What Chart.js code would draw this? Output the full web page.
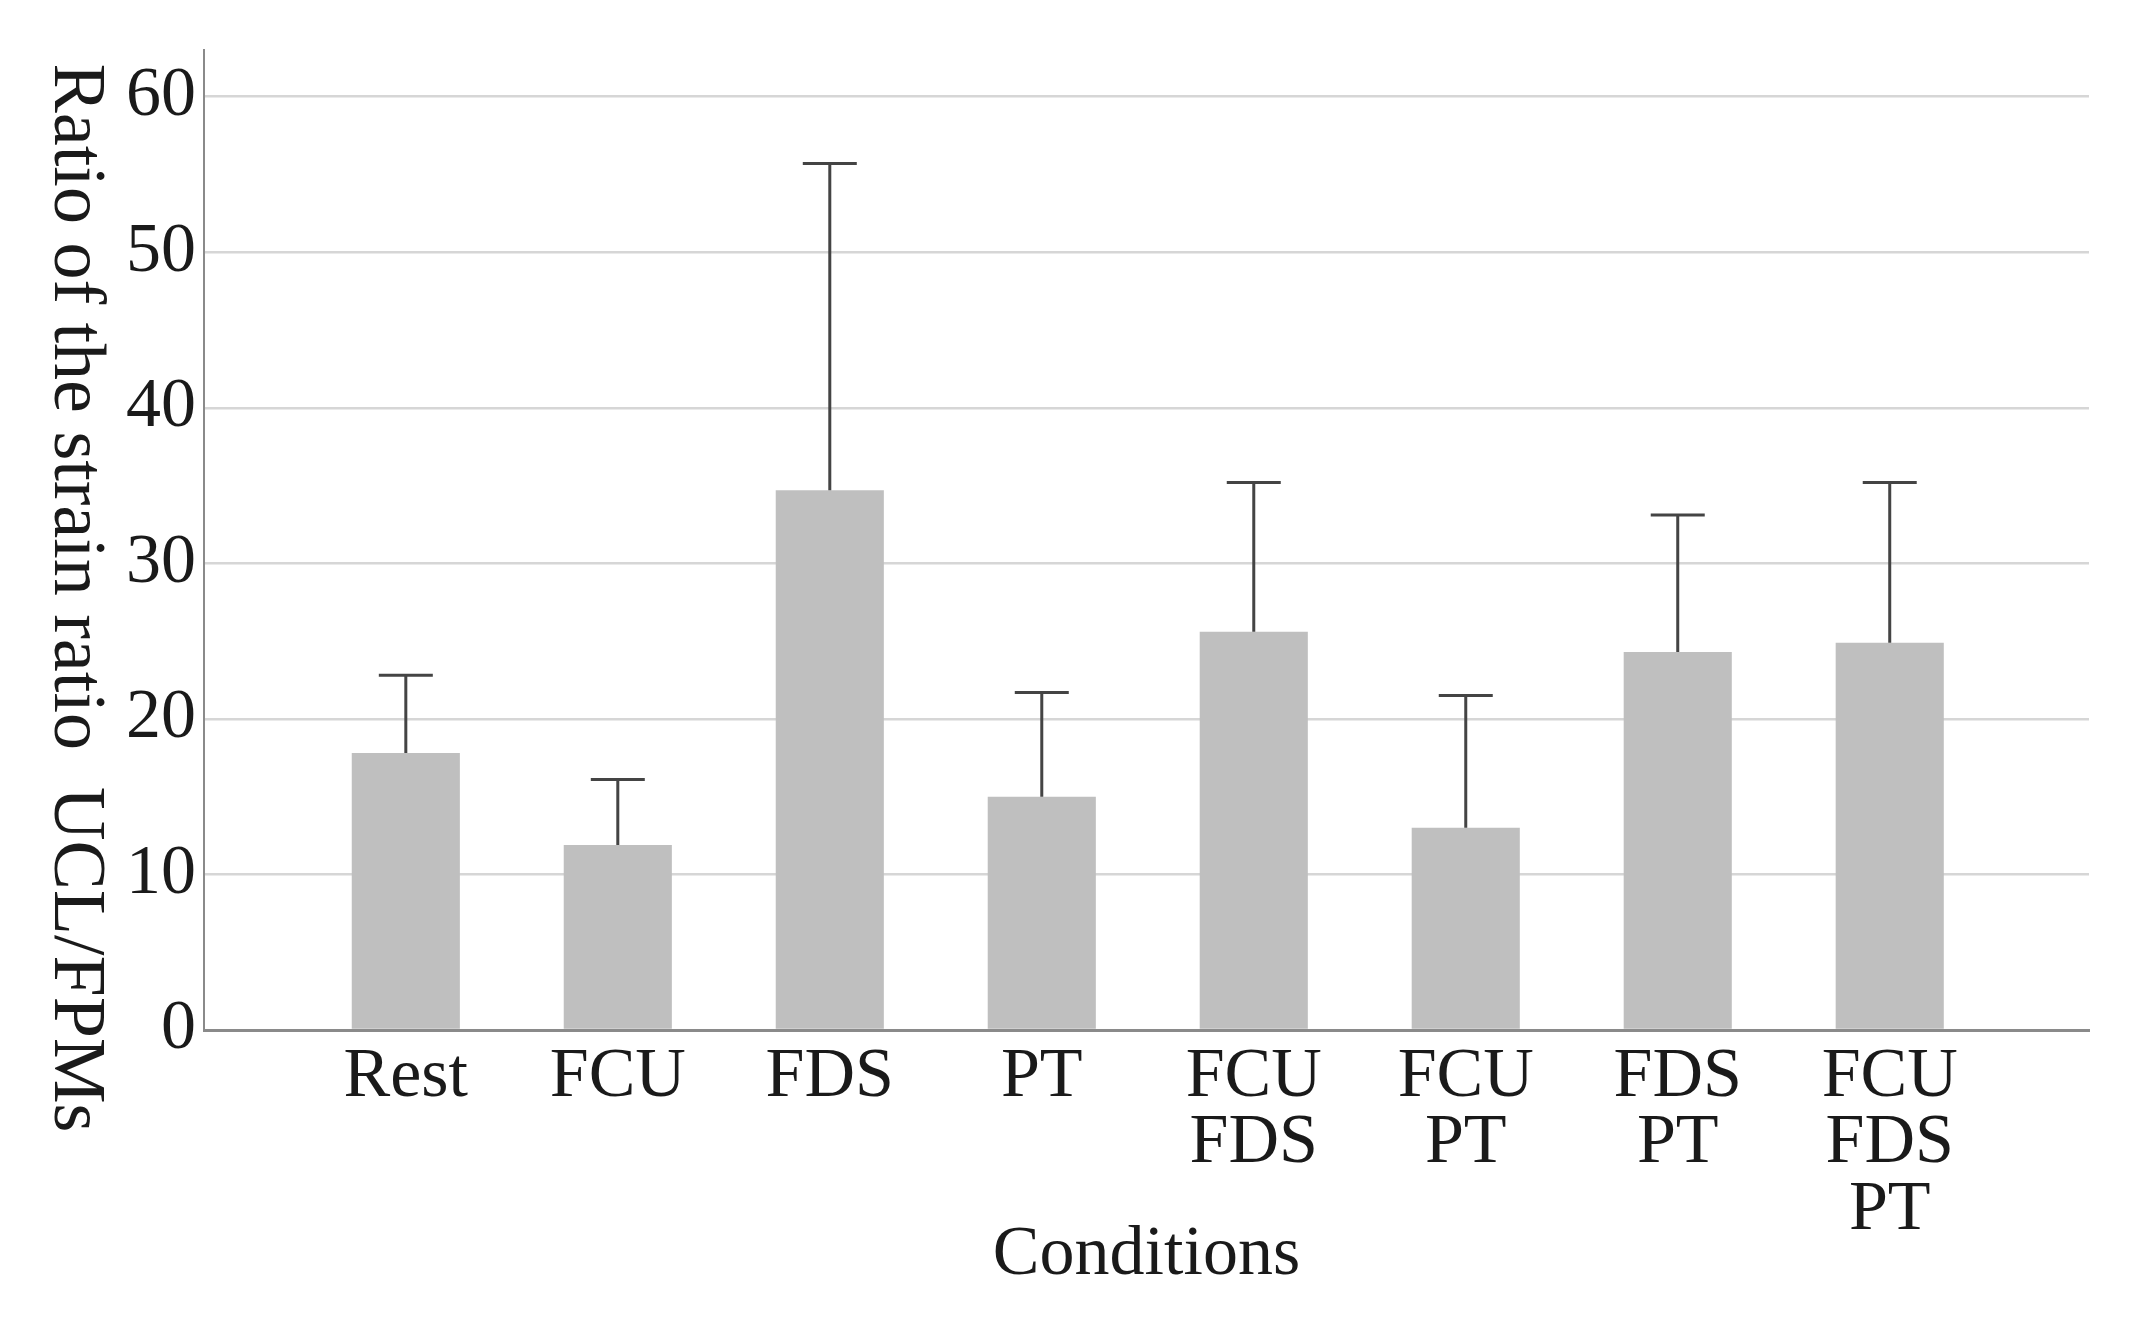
<!DOCTYPE html>
<html>
<head>
<meta charset="utf-8">
<script src="https://cdn.jsdelivr.net/npm/chart.js@4.4.0/dist/chart.umd.min.js"></script>
<style>
  html, body { margin: 0; padding: 0; background: #fff; }
  canvas { display: block; }
</style>
</head>
<body>
<canvas id="strainChart" width="2132" height="1326"></canvas>
<script>
// Values
const conditions = [['Rest'], ['FCU'], ['FDS'], ['PT'], ['FCU', 'FDS'], ['FCU', 'PT'], ['FDS', 'PT'], ['FCU', 'FDS', 'PT']];
const meanRatio = [17.8, 11.9, 34.7, 15.0, 25.6, 13.0, 24.3, 24.9];
const upperError = [22.8, 16.1, 55.7, 21.7, 35.2, 21.5, 33.1, 35.2];
const yTicks = [0, 10, 20, 30, 40, 50, 60];
const yTitle = 'Ratio of the strain ratio\u00a0\u00a0UCL/FPMs';
const xTitle = 'Conditions';

const serif = '"Liberation Serif", "DejaVu Serif", serif';

// draws the error whiskers on top of the bars
const errorBars = {
  id: 'errorBars',
  afterDatasetsDraw(chart) {
    const ctx = chart.ctx;
    const yScale = chart.scales.y;
    const meta = chart.getDatasetMeta(0);
    ctx.save();
    ctx.strokeStyle = '#444444';
    ctx.lineWidth = 3;
    meta.data.forEach((bar, i) => {
      const top = yScale.getPixelForValue(upperError[i]);
      const base = yScale.getPixelForValue(meanRatio[i]);
      ctx.beginPath();
      ctx.moveTo(bar.x, base);
      ctx.lineTo(bar.x, top);
      ctx.moveTo(bar.x - 27, top);
      ctx.lineTo(bar.x + 27, top);
      ctx.stroke();
    });
    ctx.restore();
  }
};

// y title reads top to bottom, so chart.js's own title can't do it
const sideTitle = {
  id: 'sideTitle',
  afterDraw(chart) {
    const ctx = chart.ctx;
    ctx.save();
    ctx.translate(55, 598);
    ctx.rotate(Math.PI / 2);
    ctx.font = '74px ' + serif;
    ctx.fillStyle = '#1a1a1a';
    ctx.textAlign = 'center';
    ctx.textBaseline = 'alphabetic';
    ctx.fillText(yTitle, 0, 0);
    ctx.restore();
  }
};

const ctx = document.getElementById('strainChart').getContext('2d');
new Chart(ctx, {
  type: 'bar',
  data: {
    datasets: [{
      data: meanRatio.map((v, i) => ({ x: i, y: v })),
      backgroundColor: '#bfbfbf',
      borderWidth: 0,
      barPercentage: 0.51,
      categoryPercentage: 1
    }]
  },
  options: {
    responsive: false,
    animation: false,
    devicePixelRatio: 1,
    layout: { padding: { top: 29, right: 43, bottom: 0, left: 0 } },
    plugins: {
      legend: { display: false },
      tooltip: { enabled: false }
    },
    scales: {
      x: {
        type: 'linear',
        min: -0.952,
        max: 7.94,
        offset: false,
        grid: { display: false, offset: false },
        border: { display: true, color: '#8a8a8a', width: 3 },
        afterBuildTicks: scale => { scale.ticks = conditions.map((c, i) => ({ value: i })); },
        afterFit: scale => { scale.height = 296; },
        ticks: {
          autoSkip: false,
          maxRotation: 0,
          padding: 6,
          color: '#1a1a1a',
          font: { family: serif, size: 70, lineHeight: 0.95 },
          callback: value => conditions[value]
        },
        title: {
          display: true,
          text: xTitle,
          color: '#1a1a1a',
          font: { family: serif, size: 70 },
          padding: { top: 0, bottom: 28 }
        }
      },
      y: {
        min: 0,
        max: 63,
        afterBuildTicks: scale => { scale.ticks = yTicks.map(v => ({ value: v })); },
        afterFit: scale => { scale.width = 204; },
        grid: { color: '#d6d6d6', lineWidth: 2.5, drawTicks: false },
        border: { display: true, color: '#8a8a8a', width: 2 },
        ticks: {
          padding: 8,
          color: '#1a1a1a',
          font: { family: serif, size: 70 }
        }
      }
    }
  },
  plugins: [errorBars, sideTitle]
});
</script>
</body>
</html>
